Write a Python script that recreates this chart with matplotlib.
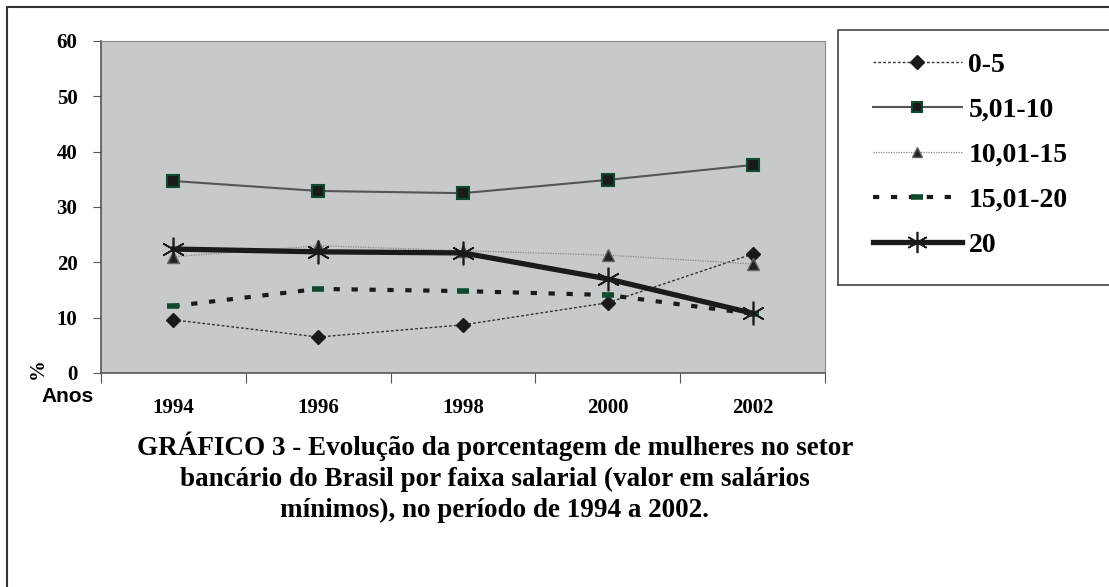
import numpy as np
import matplotlib.pyplot as plt
from matplotlib.lines import Line2D

anos = ["1994", "1996", "1998", "2000", "2002"]
faixa_0_5 = [9.6, 6.5, 8.7, 12.7, 21.5]
faixa_5_10 = [34.7, 32.9, 32.5, 34.9, 37.6]
faixa_10_15 = [21.0, 23.0, 22.1, 21.3, 19.7]
faixa_15_20 = [12.1, 15.2, 14.8, 14.1, 10.7]
faixa_20 = [22.4, 21.9, 21.7, 17.0, 10.8]

serif = "Liberation Serif"
green = "#0f4a2e"

fig = plt.figure(figsize=(11.09, 5.87), dpi=100)
W, H = 1109, 587
ax = fig.add_axes([101 / W, 1 - 373 / H, (825 - 101) / W, (373 - 41) / H])
ax.set_facecolor("#c8c9cb")

x = np.arange(len(anos))
ax.plot(x, faixa_0_5, color="#333333", lw=1, ls=(0, (2, 1.5)), marker="D",
        ms=7.5, mfc="#1a1a1a", mec="#1a1a1a", label="0-5", zorder=3)
ax.plot(x, faixa_5_10, color="#555555", lw=1.5, ls="-", marker="s",
        ms=8, mfc="#1a1a1a", mec=green, mew=1.5, label="5,01-10", zorder=3)
ax.plot(x, faixa_10_15, color="#888888", lw=0.9, ls=(0, (1, 1)), marker="^",
        ms=8.5, mfc="#222222", mec="#666666", label="10,01-15", zorder=3)
ax.plot(x, faixa_15_20, color="#1a1a1a", lw=3, ls=(0, (1.5, 2.8)),
        marker="_", ms=9, mew=4, mec=green, label="15,01-20", zorder=3)
ax.plot(x, faixa_20, color="#1a1a1a", lw=3.8, ls="-", marker=(6, 2, 0),
        ms=17, mew=1.2, mec="#1a1a1a", label="20", zorder=4)

ax.set_xlim(-0.5, 4.5)
ax.set_ylim(0, 60)
ax.set_yticks(np.arange(0, 61, 10))
ax.set_yticklabels([str(v) for v in range(0, 61, 10)], fontfamily=serif,
                   fontweight="bold", fontsize=15)
ax.set_xticks(np.arange(-0.5, 4.6, 1))
ax.set_xticklabels([])
ax.set_xticks(x, minor=True)
ax.set_xticklabels(anos, minor=True, fontfamily=serif, fontweight="bold",
                   fontsize=15)
ax.tick_params(axis="x", which="major", length=7, direction="out",
               color="#555555")
ax.tick_params(axis="x", which="minor", length=0, pad=18)
ax.tick_params(axis="y", length=6, direction="out", color="#555555", pad=11)
for side in ["top", "right"]:
    ax.spines[side].set_color("#888888")
    ax.spines[side].set_linewidth(0.8)
for side in ["left", "bottom"]:
    ax.spines[side].set_color("#555555")
    ax.spines[side].set_linewidth(1.2)

fig.text(38 / W, 1 - 369 / H, "%", rotation=90, ha="center", va="center",
         fontfamily=serif, fontweight="bold", fontsize=15)
fig.text(68 / W, 1 - 396 / H, "Anos", ha="center", va="center",
         fontfamily="Liberation Sans", fontweight="bold", fontsize=15)

# legend box: frame drawn by hand, runs off the right edge like the scan
handles, labels = ax.get_legend_handles_labels()
leg = fig.legend(handles, labels, loc="upper left",
                 bbox_to_anchor=(849 / W, 1 - 29 / H), frameon=False,
                 prop={"family": serif, "weight": "bold", "size": 20},
                 handlelength=3.2, labelspacing=0.7, borderpad=0.85,
                 borderaxespad=0, handletextpad=0.25, markerscale=0.9)
fig.add_artist(Line2D([838 / W, 838 / W, 1.0],
                      [1 - 285 / H, 1 - 30 / H, 1 - 30 / H],
                      transform=fig.transFigure, color="#444444", lw=1.2))
fig.add_artist(Line2D([838 / W, 1.0], [1 - 285 / H, 1 - 285 / H],
                      transform=fig.transFigure, color="#444444", lw=1.2))

fig.text(495 / W, 1 - 477 / H,
         "GRÁFICO 3 - Evolução da porcentagem de mulheres no setor\n"
         "bancário do Brasil por faixa salarial (valor em salários\n"
         "mínimos), no período de 1994 a 2002.",
         ha="center", va="center", fontfamily=serif, fontweight="bold",
         fontsize=19.5, linespacing=1.3)

# outer border: only left and top sides are visible in the scan
fig.add_artist(Line2D([7 / W, 7 / W, 1.0], [0.0, 1 - 7 / H, 1 - 7 / H],
                      transform=fig.transFigure, color="#333333", lw=1.5))

fig.savefig("out.png", dpi=100)
